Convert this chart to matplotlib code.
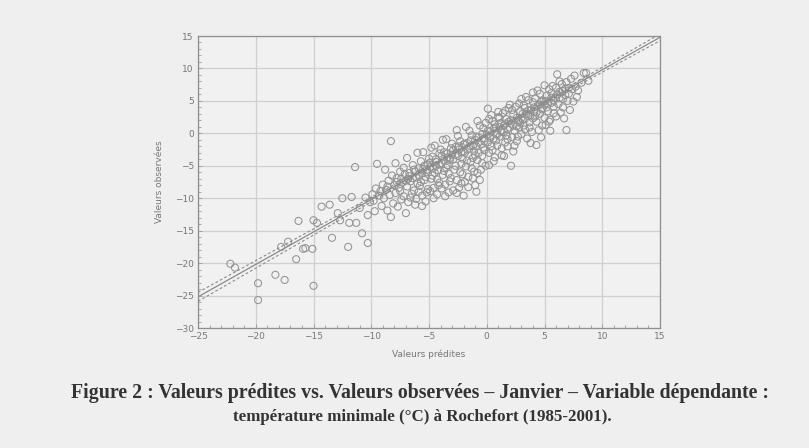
import matplotlib
matplotlib.use("Agg")
import matplotlib.pyplot as plt

predites = [
    -22.2, -21.8, -19.8, -19.8, -18.3, -17.5, -17.8, -17.2, -16.5, -16.3,
    -15.9, -15.7, -15.1, -15.0, -15.0, -14.7, -14.3, -13.6, -13.4, -12.9,
    -12.7, -12.5, -12.0, -11.9, -11.7, -11.3, -10.8, -10.3, -10.3, -10.1,
    -11.4, -9.5, -8.3,
    -9.8, -9.6, -9.3, -9.1, -9.0, -9.7,
    -8.9, -8.7, -8.6, -8.5, -8.4, -8.2, -8.1, -8.0, -8.8, -8.3,
    -7.9, -7.8, -7.7, -7.6, -7.5, -7.4, -7.3, -7.2, -7.1, -7.0, -7.9, -7.5, -7.2,
    -6.9, -6.8, -6.7, -6.6, -6.5, -6.4, -6.3, -6.2, -6.1, -6.0, -6.9, -6.6, -6.3, -6.1, -6.8,
    -5.9, -5.8, -5.7, -5.6, -5.5, -5.4, -5.3, -5.2, -5.1, -5.0, -5.9, -5.7, -5.5, -5.3, -5.1, -5.6, -5.2,
    -4.9, -4.8, -4.7, -4.6, -4.5, -4.4, -4.3, -4.2, -4.1, -4.0, -4.9, -4.7, -4.5, -4.3, -4.1, -4.6, -4.4, -4.2,
    -3.9, -3.8, -3.7, -3.6, -3.5, -3.4, -3.3, -3.2, -3.1, -3.0, -3.9, -3.7, -3.5, -3.3, -3.1, -3.6, -3.4, -3.2, -3.0,
    -2.9, -2.8, -2.7, -2.6, -2.5, -2.4, -2.3, -2.2, -2.1, -2.0, -2.9, -2.7, -2.5, -2.3, -2.1, -2.6, -2.4, -2.2, -2.0,
    -1.9, -1.8, -1.7, -1.6, -1.5, -1.4, -1.3, -1.2, -1.1, -1.0, -1.9, -1.7, -1.5, -1.3, -1.1, -1.6, -1.4, -1.2, -1.0,
    -0.9, -0.8, -0.7, -0.6, -0.5, -0.4, -0.3, -0.2, -0.1, 0.0, -0.9, -0.8, -0.6, -0.4, -0.2, -0.7, -0.5, -0.3, -0.1,
    0.1, 0.2, 0.1, 0.2, 0.3, 0.4, 0.5, 0.6, 0.7, 0.8, 0.9, 1.0, 0.3, 0.5, 0.7, 0.9, 0.4, 0.6, 0.8,
    1.1, 1.2, 1.3, 1.4, 1.5, 1.6, 1.7, 1.8, 1.9, 2.0, 1.1, 1.3, 1.5, 1.7, 1.9, 1.2, 1.6, 1.8, 2.1,
    2.1, 2.2, 2.3, 2.4, 2.5, 2.6, 2.7, 2.8, 2.9, 3.0, 2.2, 2.4, 2.6, 2.8, 3.0, 2.3, 2.7, 2.9,
    3.1, 3.2, 3.3, 3.4, 3.5, 3.6, 3.7, 3.8, 3.9, 4.0, 3.2, 3.4, 3.6, 3.8, 4.0, 3.3, 3.7,
    4.1, 4.2, 4.3, 4.4, 4.5, 4.6, 4.7, 4.8, 4.9, 5.0, 4.2, 4.4, 4.6, 4.8, 5.0, 4.3, 4.7,
    5.1, 5.2, 5.3, 5.4, 5.5, 5.6, 5.7, 5.8, 5.9, 6.0, 5.2, 5.4, 5.6, 5.8, 6.0, 5.5,
    6.1, 6.2, 6.3, 6.4, 6.5, 6.6, 6.7, 6.8, 6.9, 7.0, 6.3, 6.6, 6.9,
    7.1, 7.3, 7.5, 7.7, 7.9, 7.2, 7.6, 7.8,
    8.4, 8.6, 8.2, 8.8,
    -7.8, -7.4, -7.0, -6.7, -6.4, -6.2, -5.9, -5.6, -5.4, -5.2,
    -4.9, -4.6, -4.4, -4.1, -3.9, -3.7, -3.4, -3.2, -2.9, -2.7,
    -2.4, -2.2, -1.9, -1.7, -1.4, -1.2, -0.9, -0.7, -0.4, -0.2,
    0.1, 0.3, 0.6, 0.8, 1.1, 1.3, 1.6, 1.8, 2.1, 2.3,
    2.6, 2.8, 3.1, 3.3, 3.6, 3.8, 4.1, 4.3, 4.6, 4.8,
    5.1, 5.3, 5.6, 5.8, 6.1, 6.3, 6.6, 6.8, 7.1, 7.4,
    -8.6, -9.2, -9.9, -10.5, -11.0, -6.0, -4.8, -3.8, -2.6, -1.8,
    -0.8, 0.2, 1.0, 2.0, 3.0, 4.0, 5.0, -1.0, -2.0, 1.5,
]
observees = [
    -20.1, -20.7, -23.1, -25.7, -21.8, -22.6, -17.5, -16.7, -19.4, -13.5,
    -17.8, -17.7, -17.8, -13.4, -23.5, -13.8, -11.3, -11.0, -16.1, -12.3,
    -13.4, -10.0, -17.5, -13.8, -9.8, -13.8, -15.4, -16.9, -12.6, -10.6,
    -5.2, -4.7, -1.2,
    -10.4, -8.5, -9.6, -11.2, -7.9, -12.0,
    -10.0, -8.7, -11.9, -7.3, -9.5, -6.5, -10.8, -8.0, -5.6, -12.9,
    -9.2, -6.9, -11.3, -8.4, -5.9, -10.2, -7.6, -9.7, -6.3, -12.3, -4.6, -8.9, -5.3,
    -8.2, -10.6, -6.1, -7.4, -9.3, -4.9, -8.8, -11.0, -6.8, -7.7, -3.8, -9.9, -5.6, -10.1, -7.0,
    -6.4, -8.1, -4.3, -9.6, -5.5, -7.2, -10.5, -6.0, -8.6, -3.9, -9.0, -7.5, -2.9, -6.7, -4.8, -11.2, -9.1,
    -5.2, -7.0, -3.6, -8.4, -6.1, -4.4, -9.4, -5.7, -7.6, -2.5, -8.9, -6.5, -1.9, -7.1, -3.1, -10.0, -5.0, -8.0,
    -4.6, -6.4, -2.9, -7.9, -5.3, -3.7, -9.1, -4.1, -6.9, -1.6, -8.5, -5.8, -0.9, -6.2, -2.3, -9.7, -4.9, -7.4, -3.3,
    -4.0, -5.6, -2.1, -7.2, -3.5, -8.4, -1.2, -4.7, -6.3, -2.8, -8.8, -5.0, -0.4, -6.0, -3.9, -9.2, -2.5, -7.7, -1.7,
    -3.0, -5.1, -1.5, -6.7, -2.4, -4.4, -0.3, -3.8, -5.9, -1.0, -7.5, -4.2, 0.4, -5.4, -2.7, -8.3, -2.0, -6.9, -3.4,
    -2.0, -4.1, -0.6, -7.2, -1.7, -3.5, 0.8, -2.6, -5.0, -0.2, -9.0, -6.1, 1.2, -4.6, -1.2, -3.0, -5.6, -2.2, 1.6,
    3.8, -4.9, -1.4, -3.0, 0.3, -2.0, 1.9, -0.8, -3.7, 0.9, -1.9, 2.5, -0.4, -2.6, 1.4, -0.2, 2.8, -4.3, -1.1,
    -0.5, 1.6, -2.3, 3.1, 0.2, -1.4, 2.2, -0.9, 3.9, 0.9, 2.4, -3.4, 1.2, -0.3, 1.8, 0.4, 3.5, -2.0, -5.0,
    1.5, -0.6, 2.9, 0.4, 4.1, -1.2, 2.0, 0.9, 3.4, -0.1, 3.6, -1.9, 1.1, 4.6, 2.4, -2.8, -0.5, 1.6,
    2.1, 4.3, 0.6, 3.0, -0.8, 5.1, 1.7, 3.6, 0.2, 4.8, 1.2, 5.6, 2.7, -1.5, 2.3, 3.9, 0.9,
    3.3, 5.4, 1.8, 4.2, 0.5, 6.1, -0.6, 3.7, 5.0, 2.4, 2.6, 6.6, 3.0, 1.2, 4.4, -1.8, 4.9,
    1.3, 5.8, 3.4, 6.8, 2.1, 4.7, 7.3, 3.1, 5.5, 2.6, 4.0, 1.8, 6.2, 4.1, 7.0, 0.4,
    9.1, 4.5, 6.4, 3.2, 7.6, 5.3, 2.3, 6.9, 0.5, 5.0, 8.0, 4.0, 7.9,
    6.1, 8.4, 4.9, 7.2, 6.6, 3.6, 8.9, 5.6,
    9.3, 9.3, 7.8, 8.1,
    -7.5, -7.0, -7.3, -6.6, -6.9, -5.9, -5.4, -6.1, -5.0, -5.6,
    -4.5, -5.3, -4.0, -4.8, -3.5, -4.2, -3.1, -3.8, -2.6, -3.3,
    -2.0, -2.9, -1.6, -2.5, -1.1, -1.9, -0.5, -1.4, -0.1, -0.8,
    0.4, -0.7, 0.7, -0.1, 1.0, 0.2, 1.5, 0.6, 2.0, 1.2,
    2.4, 1.8, 3.0, 2.2, 3.5, 2.8, 4.0, 3.2, 4.4, 3.9,
    5.0, 4.6, 5.5, 5.0, 6.0, 5.4, 6.5, 5.9, 7.0, 6.8,
    -8.2, -8.9, -9.4, -9.9, -11.5, -3.0, -2.2, -1.0, 0.5, 1.0,
    1.9, 2.2, 3.3, 4.4, 5.3, 6.3, 7.4, -8.0, -9.6, -3.5,
]

# regression line and its confidence band
fit_x = [-25, 15]
fit_y = [-25.2, 14.8]
band_x = [-25, -20, -15, -10, -5, 0, 5, 10, 15]
band_mid = [-25.2, -20.2, -15.2, -10.2, -5.2, -0.2, 4.8, 9.8, 14.8]
band_half = [0.69, 0.58, 0.47, 0.36, 0.22, 0.18, 0.26, 0.38, 0.52]

x_ticks = [-25, -20, -15, -10, -5, 0, 5, 10, 15]
y_ticks = [-30, -25, -20, -15, -10, -5, 0, 5, 10, 15]

caption1 = "Figure 2 : Valeurs prédites vs. Valeurs observées – Janvier – Variable dépendante :"
caption2 = "température minimale (°C) à Rochefort (1985-2001)."

fig = plt.figure(figsize=(8.09, 4.48), dpi=100, facecolor="#efefef")
W, H = 809, 448

ax = fig.add_axes([198 / W, 1 - 328 / H, 462 / W, 292 / H])
ax.set_facecolor("#f1f1f1")

ax.scatter(predites, observees, s=26, facecolors="none", edgecolors="#939393",
           linewidths=0.75, zorder=3)
ax.plot(fit_x, fit_y, color="#8a8a8a", lw=0.9, zorder=4)
lower = [m - h for m, h in zip(band_mid, band_half)]
upper = [m + h for m, h in zip(band_mid, band_half)]
ax.plot(band_x, lower, color="#8a8a8a", lw=0.8, ls=(0, (2.5, 2)), zorder=4)
ax.plot(band_x, upper, color="#8a8a8a", lw=0.8, ls=(0, (2.5, 2)), zorder=4)

ax.set_xlim(-25, 15)
ax.set_ylim(-30, 15)
ax.set_xticks(x_ticks)
ax.set_yticks(y_ticks)
ax.set_xticks(range(-25, 16), minor=True)
ax.set_yticks(range(-30, 16), minor=True)
ax.grid(True, which="major", color="#cfcfcf", lw=0.9)
ax.tick_params(which="both", direction="in", colors="#9a9a9a", labelsize=6.5,
               labelcolor="#777777", length=2, width=0.6, pad=3)
ax.tick_params(which="major", length=3)
for sp in ax.spines.values():
    sp.set_color("#8f8f8f")
    sp.set_linewidth(0.9)
ax.set_xlabel("Valeurs prédites", fontsize=6.5, color="#777777", labelpad=6)
ax.set_ylabel("Valeurs observées", fontsize=6.5, color="#777777", labelpad=8)

fig.text(420 / W, 1 - 393 / H, caption1, ha="center", va="center",
         family="Liberation Serif", weight="bold", fontsize=14.3, color="#333333")
fig.text(422 / W, 1 - 417 / H, caption2, ha="center", va="center",
         family="Liberation Serif", weight="bold", fontsize=12.2, color="#333333")

fig.savefig("out.png", dpi=100, facecolor=fig.get_facecolor())
